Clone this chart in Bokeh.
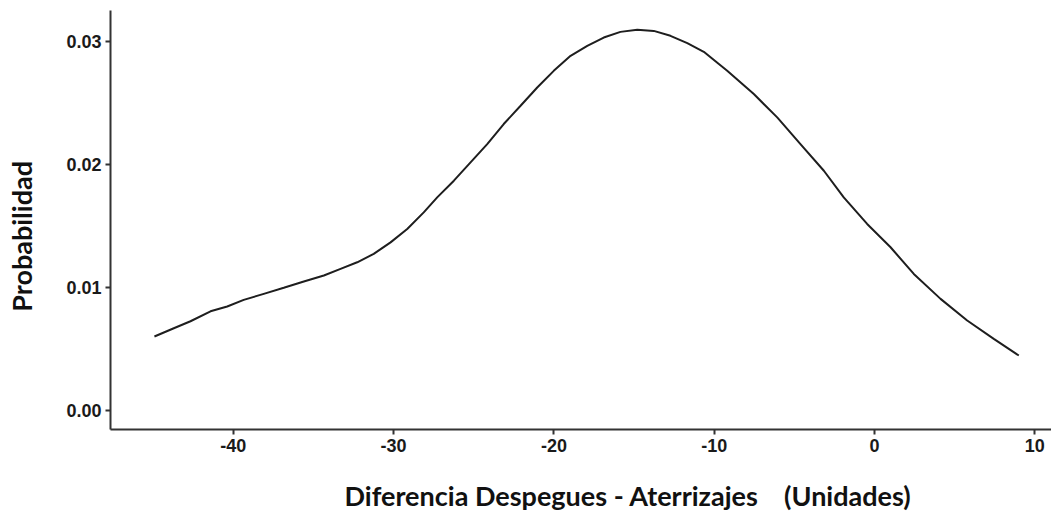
from bokeh.plotting import figure
from bokeh.models import Range1d, FixedTicker
from bokeh.embed import file_html
from bokeh.resources import INLINE

# Density curve
diff_x = [-44.92, -43.71, -42.67, -41.42, -40.38, -39.35, -38.10, -36.85, -35.60, -34.35,
          -33.31, -32.27, -31.24, -30.19, -29.15, -28.12, -27.28, -26.24, -25.20, -24.16,
          -23.13, -22.08, -21.04, -20.01, -18.96, -17.92, -16.89, -15.85, -14.80, -13.77,
          -12.73, -11.68, -10.65, -9.71, -9.19, -7.53, -6.07, -4.62, -3.16, -1.92,
          -0.46, 1.00, 2.45, 4.12, 5.78, 7.44, 9.00]
prob_y = [0.00602, 0.00669, 0.00726, 0.00807, 0.00846, 0.00900, 0.00949, 0.00998, 0.01049, 0.01098,
          0.01152, 0.01206, 0.01274, 0.01368, 0.01477, 0.01612, 0.01734, 0.01870, 0.02019, 0.02168,
          0.02331, 0.02480, 0.02628, 0.02764, 0.02886, 0.02967, 0.03035, 0.03081, 0.03098, 0.03089,
          0.03049, 0.02989, 0.02919, 0.02819, 0.02764, 0.02575, 0.02385, 0.02168, 0.01951, 0.01734,
          0.01518, 0.01328, 0.01111, 0.00908, 0.00732, 0.00583, 0.00447]

x_ticks = [-40, -30, -20, -10, 0, 10]
x_tick_labels = ["-40", "-30", "-20", "-10", "0", "10"]
y_ticks = [0.0, 0.01, 0.02, 0.03]
y_tick_labels = ["0.00", "0.01", "0.02", "0.03"]

x_title = "Diferencia Despegues - Aterrizajes    (Unidades)"
y_title = "Probabilidad"

p = figure(width=1051, height=521, output_backend="svg", toolbar_location=None,
           x_range=Range1d(-47.66, 11.04), y_range=Range1d(-0.00155, 0.03255),
           min_border_left=110, min_border_right=0, min_border_top=10, min_border_bottom=92)
p.outline_line_color = None
p.xgrid.visible = False
p.ygrid.visible = False
p.background_fill_color = "white"
p.border_fill_color = "white"

p.line(diff_x, prob_y, line_color="#1e1e1e", line_width=2)

for ax in (p.xaxis[0], p.yaxis[0]):
    ax.axis_line_width = 2
    ax.axis_line_color = "#333333"
    ax.major_tick_line_color = "#333333"
    ax.major_tick_line_width = 2
    ax.major_tick_out = 5
    ax.major_tick_in = 0
    ax.minor_tick_line_color = None
    ax.major_label_text_font = "Liberation Sans"
    ax.major_label_text_font_style = "bold"
    ax.major_label_text_font_size = "18px"
    ax.major_label_text_color = "#1a1a1a"
    ax.major_label_standoff = 4
    ax.axis_label_text_font = "Lato"
    ax.axis_label_text_font_style = "bold"
    ax.axis_label_text_color = "#111111"

p.xaxis[0].ticker = FixedTicker(ticks=x_ticks)
p.xaxis[0].major_label_overrides = {t: l for t, l in zip(x_ticks, x_tick_labels)}
p.yaxis[0].ticker = FixedTicker(ticks=y_ticks)
p.yaxis[0].major_label_overrides = {t: l for t, l in zip(y_ticks, y_tick_labels)}

# axis titles (non-breaking spaces keep the wide gap and shift the titles like the reference)
p.xaxis[0].axis_label = ("\u2003\u2003\u2003\u2003\u00a0\u00a0"
                         + x_title.replace("    ", "\u00a0\u00a0\u00a0\u00a0"))
p.xaxis[0].axis_label_text_font_size = "27px"
p.xaxis[0].axis_label_standoff = 24
p.yaxis[0].axis_label = y_title + "\u00a0\u00a0\u00a0\u00a0\u00a0"
p.yaxis[0].axis_label_text_font_size = "27px"
p.yaxis[0].axis_label_standoff = 25

open("out.html", "w").write(file_html(p, INLINE))
